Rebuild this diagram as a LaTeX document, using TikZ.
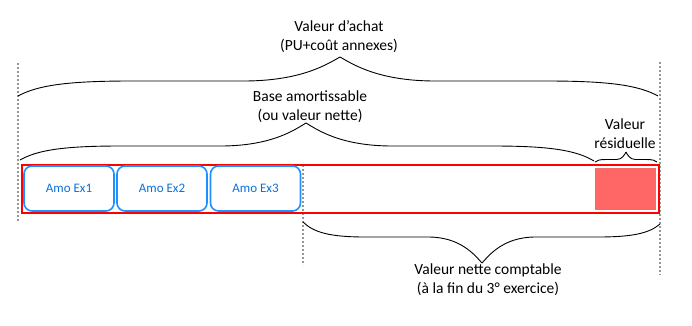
\documentclass[tikz,border=0pt]{standalone}
\usepackage{fontspec}
\setmainfont{Carlito}
\definecolor{boxblue}{RGB}{30,144,255}
\definecolor{txtblue}{RGB}{10,112,220}
\definecolor{dotgray}{RGB}{150,150,150}
\definecolor{pinkfill}{RGB}{255,102,102}
\definecolor{framered}{RGB}{255,0,0}
\newcommand{\hbr}[5]{%
  \draw[bracestyle] (#1,#2) .. controls ({#1+0.06*(#3-#1)},{#5+0.3*(#2-#5)}) and ({#1+0.15*(#3-#1)},#5) .. ({#1+0.35*(#3-#1)},#5)
    -- ({#1+0.7*(#3-#1)},#5) .. controls ({#1+0.88*(#3-#1)},#5) and ({#1+0.96*(#3-#1)},{#4+0.3*(#5-#4)}) .. (#3,#4);}
\tikzset{
  bracestyle/.style={draw=black, line width=0.9pt},
  dotline/.style={draw=dotgray, line width=2pt, dash pattern=on 2pt off 2pt},
  amobox/.style={draw=boxblue, line width=1.6pt, rounded corners=8pt, minimum width=90pt, minimum height=45pt, inner sep=0pt, text=txtblue, font=\fontsize{13}{15}\selectfont},
  lbl/.style={align=center, font=\fontsize{15.5}{19}\selectfont, inner sep=0pt}
}
\begin{document}
\begin{tikzpicture}[x=1pt,y=-1pt]
\useasboundingbox (0,0) rectangle (692,325);
% dotted guides
\coordinate (l1) at (18,63); \coordinate (l2) at (18,222);
\coordinate (m1) at (303,165); \coordinate (m2) at (303,265);
\coordinate (r1) at (660,62); \coordinate (r2) at (660,275);
\draw[dotline] (l1) -- (l2);
\draw[dotline] (m1) -- (m2);
\draw[dotline] (r1) -- (r2);
% frame
\node[draw=framered, line width=2pt, minimum width=637pt, minimum height=48pt, inner sep=0pt, anchor=north west] (frame) at (21,164) {};
% residual
\node[fill=pinkfill, draw=white, line width=0.8pt, minimum width=62pt, minimum height=43pt, inner sep=0pt, anchor=north west] (resid) at (594,167) {};
% amortisation boxes
\node[amobox] (ex1) at (69,188.5) {Amo Ex1};
\node[amobox] (ex2) at (162,188.5) {Amo Ex2};
\node[amobox] (ex3) at (255.5,188.5) {Amo Ex3};
% top brace
\hbr{18}{96}{340}{57}{81}
\hbr{658}{96}{340}{57}{81}
% base amortissable brace
\hbr{20}{160}{306}{123}{146}
\hbr{594}{161}{306}{123}{146}
% residual brace
\hbr{595}{162}{626}{152}{159.5}
\hbr{657}{162}{626}{152}{159.5}
% bottom brace
\hbr{303}{222}{482}{263}{237}
\hbr{660}{224}{482}{263}{237}
% labels
\node[lbl] (achat) at (339,36.5) {Valeur d\symbol{39}achat\\(PU+coût annexes)};
\node[lbl] (base) at (310,107) {Base amortissable\\(ou valeur nette)};
\node[lbl] (resl) at (625,134) {Valeur\\résiduelle};
\node[lbl] (vnc) at (488,280) {Valeur nette comptable\\(à la fin du 3° exercice)};
\end{tikzpicture}
\end{document}
